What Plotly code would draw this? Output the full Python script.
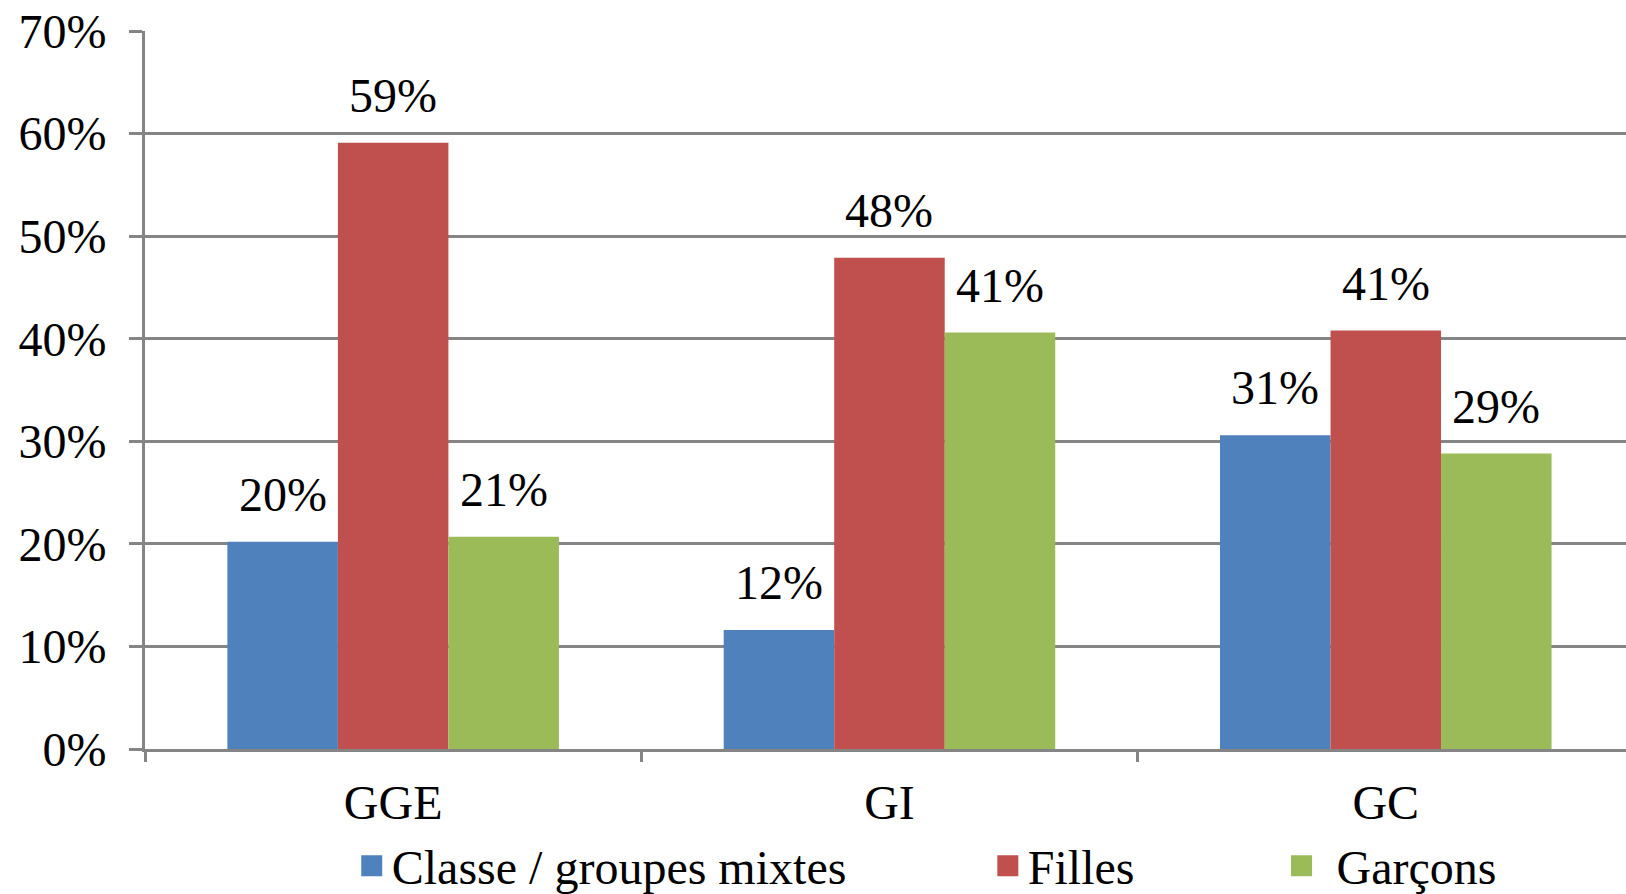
import plotly.graph_objects as go

# Categories and series (shares, 0-1)
categories = ["GGE", "GI", "GC"]
series_names = ["Classe / groupes mixtes", "Filles", "Garçons"]
mixtes = [0.202, 0.116, 0.306]
filles = [0.591, 0.479, 0.408]
garcons = [0.207, 0.406, 0.288]
y_ticks = [0.0, 0.1, 0.2, 0.3, 0.4, 0.5, 0.6, 0.7]

colors = ["#4F81BD", "#C0504D", "#9BBB59"]
FONT = "Liberation Serif"
FS = 48
GRID = "#858585"
BARGAP = 0.332

fig = go.Figure()
all_series = [mixtes, filles, garcons]
for name, vals, col in zip(series_names, all_series, colors):
    fig.add_trace(go.Bar(
        x=categories, y=vals, name=name, showlegend=False,
        marker=dict(color=col, line=dict(width=0)),
        hoverinfo="skip",
    ))

# Legend entries with larger square keys, one legend box per series
legend_ids = ["legend", "legend2", "legend3"]
for name, col, lg in zip(series_names, colors, legend_ids):
    fig.add_trace(go.Scatter(
        x=[None], y=[None], mode="markers", name=name, legend=lg,
        marker=dict(symbol="square", size=16, color=col,
                    line=dict(color=col, width=5)),
        showlegend=True, hoverinfo="skip",
    ))

# Value labels above each bar, centred on the bar within its group
n = len(all_series)
w = (1 - BARGAP) / n
annotations = []
for i, vals in enumerate(all_series):
    for j, v in enumerate(vals):
        annotations.append(dict(
            x=j + (i - (n - 1) / 2) * w, y=v, xref="x", yref="y",
            text=f"{round(v * 100):d}%", showarrow=False,
            yanchor="bottom", xanchor="center", yshift=19,
            font=dict(family=FONT, size=FS, color="black"),
        ))

legend_common = dict(
    orientation="h", yanchor="middle", xanchor="left", y=-0.163,
    font=dict(family=FONT, size=FS, color="black"),
    bgcolor="rgba(0,0,0,0)", itemsizing="trace",
)

fig.update_layout(
    width=1626, height=894,
    margin=dict(l=145, r=0, t=31, b=145, autoexpand=False),
    paper_bgcolor="white", plot_bgcolor="white",
    showlegend=True,
    barmode="group", bargap=BARGAP, bargroupgap=0,
    font=dict(family=FONT, size=FS, color="black"),
    annotations=annotations,
    legend=dict(x=0.1396, **legend_common),
    legend2=dict(x=0.5691, **legend_common),
    legend3=dict(x=0.7573, itemwidth=60, **legend_common),
    xaxis=dict(
        type="category", range=[-0.5, 2.484],
        showline=True, linecolor=GRID, linewidth=3,
        ticks="outside", tickson="boundaries", ticklen=10,
        tickwidth=3, tickcolor=GRID, showgrid=False,
        ticklabelstandoff=9,
        tickfont=dict(family=FONT, size=FS, color="black"),
    ),
    yaxis=dict(
        range=[0, 0.7], tickvals=y_ticks, tickformat=".0%",
        showgrid=True, gridcolor=GRID, gridwidth=3,
        showline=True, linecolor=GRID, linewidth=3,
        ticks="outside", ticklen=13, tickwidth=3, tickcolor=GRID,
        zeroline=False, ticklabelstandoff=13,
        tickfont=dict(family=FONT, size=FS, color="black"),
    ),
)

fig.write_html("out.html", config={"displayModeBar": False})
